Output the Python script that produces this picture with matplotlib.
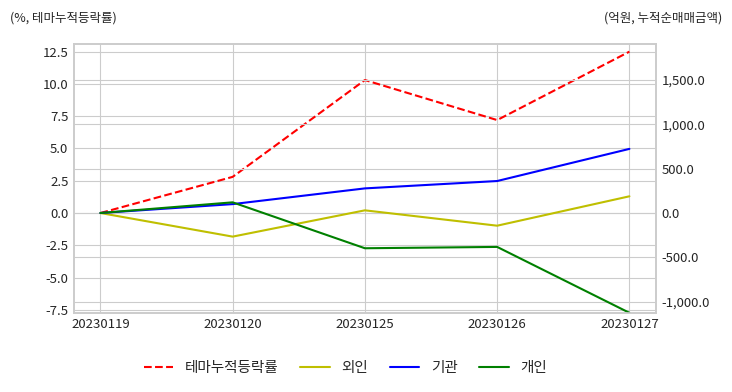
import matplotlib
matplotlib.use("Agg")
import matplotlib.pyplot as plt
from matplotlib.ticker import FuncFormatter

plt.style.use("seaborn-v0_8-whitegrid")
plt.rcParams["font.family"] = ["Noto Sans CJK KR", "DejaVu Sans"]
plt.rcParams["axes.unicode_minus"] = False

dates = ["20230119", "20230120", "20230125", "20230126", "20230127"]
theme_return = [0.0, 2.8, 10.3, 7.2, 12.5]      # %
foreign = [0.0, -266.0, 30.0, -143.0, 188.0]   # 억원
institution = [0.0, 100.0, 277.0, 360.0, 722.0]
individual = [0.0, 120.0, -397.0, -382.0, -1124.0]

fig = plt.figure(figsize=(7.32, 3.92), dpi=100)
ax = fig.add_axes([0.101, 0.202, 0.795, 0.686])
ax2 = ax.twinx()

x = list(range(len(dates)))
l1, = ax.plot(x, theme_return, color="r", linestyle="--", linewidth=1.5, label="테마누적등락률")
l2, = ax2.plot(x, foreign, color="y", linewidth=1.5, label="외인")
l3, = ax2.plot(x, institution, color="b", linewidth=1.5, label="기관")
l4, = ax2.plot(x, individual, color="g", linewidth=1.5, label="개인")

ax.set_xticks(x)
ax.set_xticklabels(dates)
ax.set_xlim(-0.2, 4.2)
ax.set_ylim(-7.73, 13.1)
ax.set_yticks([-7.5, -5.0, -2.5, 0.0, 2.5, 5.0, 7.5, 10.0, 12.5])
ax2.set_ylim(-1124, 1904)
ax2.set_yticks([-1000, -500, 0, 500, 1000, 1500])
ax2.yaxis.set_major_formatter(FuncFormatter(lambda v, _: f"{v:,.1f}"))

for a in (ax, ax2):
    a.tick_params(labelsize=9.5, colors="#262626", length=0, pad=4)
    for sp in a.spines.values():
        sp.set_visible(True)
        sp.set_color("#cccccc")
        sp.set_linewidth(1.2)
ax2.grid(True, color="#cccccc")
ax.grid(True, color="#cccccc")

fig.text(0.014, 0.955, "(%, 테마누적등락률)", fontsize=9, color="#262626", ha="left", va="center")
fig.text(0.986, 0.955, "(억원, 누적순매매금액)", fontsize=9, color="#262626", ha="right", va="center")

fig.legend(handles=[l1, l2, l3, l4], loc="center", bbox_to_anchor=(0.472, 0.062),
           ncol=4, frameon=False, fontsize=10.5, handlelength=2.0, columnspacing=1.5)

fig.savefig("out.png")
